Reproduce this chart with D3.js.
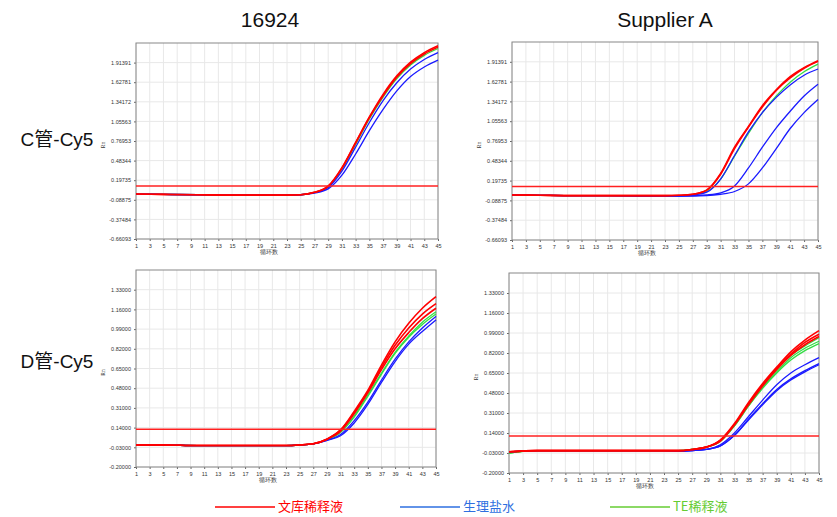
<!DOCTYPE html>
<html><head><meta charset="utf-8">
<script src="https://cdn.jsdelivr.net/npm/d3@7/dist/d3.min.js"></script>
<style>body{margin:0;background:#fff}</style></head>
<body><svg id="c" width="837" height="517"></svg>
<script>
const cycles = [1,5,10,15,20,23,25,27,29,31,33,35,37,39,41,43,45];
const xTicks = d3.range(1,46,2);
const yTicksTop = ["-0.66093","-0.37484","-0.08875","0.19735","0.48344","0.76953","1.05563","1.34172","1.62781","1.91391"];
const yTicksBottom = ["-0.20000","-0.03000","0.14000","0.31000","0.48000","0.65000","0.82000","0.99000","1.16000","1.33000"];
const colTitles = ["16924","Supplier A"];
const rowTitles = ["C管-Cy5","D管-Cy5"];
const legendLabels = ["文库稀释液","生理盐水","TE稀释液"];
const thresholds = [0.113, 0.113, 0.125, 0.115];

// panel 1: C tube, 16924
const p1Red = [[-0.005,-0.01,-0.015,-0.02,-0.02,-0.02,-0.015,0.02,0.11,0.38,0.75,1.12,1.45,1.72,1.92,2.06,2.16],
               [-0.005,-0.01,-0.015,-0.02,-0.02,-0.02,-0.015,0.02,0.11,0.37,0.74,1.11,1.43,1.70,1.90,2.04,2.14]];
const p1Green = [[-0.005,-0.01,-0.015,-0.02,-0.02,-0.02,-0.015,0.02,0.10,0.36,0.72,1.09,1.41,1.68,1.88,2.02,2.12]];
const p1Blue = [[-0.005,-0.01,-0.015,-0.02,-0.02,-0.02,-0.015,0.015,0.09,0.33,0.68,1.04,1.36,1.62,1.82,1.96,2.06],
                [-0.005,-0.01,-0.015,-0.02,-0.02,-0.02,-0.015,0.01,0.07,0.27,0.58,0.92,1.23,1.50,1.71,1.85,1.95]];
// panel 2: C tube, Supplier A
const p2Red = [[-0.01,-0.015,-0.02,-0.02,-0.02,-0.02,-0.015,0.0,0.06,0.30,0.68,0.98,1.28,1.51,1.70,1.83,1.93],
               [-0.01,-0.015,-0.02,-0.02,-0.02,-0.02,-0.015,0.0,0.06,0.29,0.66,0.97,1.26,1.50,1.68,1.82,1.92]];
const p2Green = [[-0.01,-0.015,-0.02,-0.02,-0.02,-0.02,-0.02,-0.005,0.04,0.22,0.55,0.88,1.18,1.42,1.62,1.77,1.88]];
const p2Blue = [[-0.01,-0.015,-0.02,-0.02,-0.02,-0.02,-0.02,-0.01,0.03,0.22,0.56,0.90,1.18,1.40,1.58,1.72,1.81],
                [-0.01,-0.015,-0.02,-0.02,-0.025,-0.025,-0.025,-0.02,-0.01,0.02,0.12,0.38,0.68,0.96,1.20,1.42,1.59],
                [-0.01,-0.015,-0.02,-0.02,-0.025,-0.025,-0.025,-0.025,-0.02,0.0,0.04,0.15,0.38,0.66,0.95,1.18,1.37]];
// panel 3: D tube, 16924
const p3Red = [[-0.01,-0.01,-0.015,-0.015,-0.015,-0.015,-0.01,0.0,0.04,0.12,0.28,0.46,0.68,0.88,1.04,1.17,1.27],
               [-0.01,-0.01,-0.015,-0.015,-0.015,-0.015,-0.01,0.0,0.04,0.12,0.27,0.45,0.66,0.85,1.00,1.12,1.21],
               [-0.01,-0.01,-0.015,-0.015,-0.015,-0.015,-0.01,0.0,0.04,0.11,0.26,0.44,0.64,0.82,0.96,1.08,1.17]];
const p3Green = [[-0.01,-0.01,-0.015,-0.015,-0.015,-0.015,-0.01,0.0,0.035,0.10,0.24,0.42,0.61,0.79,0.93,1.05,1.14],
                 [-0.01,-0.01,-0.015,-0.015,-0.015,-0.015,-0.01,0.0,0.035,0.10,0.23,0.41,0.60,0.78,0.92,1.03,1.12]];
const p3Blue = [[-0.01,-0.01,-0.015,-0.015,-0.015,-0.015,-0.01,0.0,0.03,0.08,0.20,0.36,0.55,0.73,0.88,1.00,1.10],
                [-0.01,-0.01,-0.015,-0.015,-0.015,-0.015,-0.01,0.0,0.03,0.07,0.18,0.34,0.53,0.71,0.86,0.97,1.07]];
// panel 4: D tube, Supplier A
const p4Red = [[-0.02,-0.01,-0.01,-0.01,-0.01,-0.01,-0.01,0.0,0.02,0.08,0.22,0.40,0.56,0.70,0.83,0.93,1.01],
               [-0.02,-0.01,-0.01,-0.01,-0.01,-0.01,-0.01,0.0,0.02,0.08,0.21,0.39,0.55,0.69,0.81,0.91,0.98],
               [-0.02,-0.01,-0.01,-0.01,-0.01,-0.01,-0.01,0.0,0.02,0.07,0.21,0.38,0.54,0.68,0.80,0.89,0.96]];
const p4Green = [[-0.03,-0.01,-0.01,-0.01,-0.01,-0.01,-0.01,0.0,0.02,0.07,0.21,0.38,0.54,0.68,0.80,0.88,0.95],
                 [-0.03,-0.01,-0.01,-0.01,-0.01,-0.01,-0.01,0.0,0.02,0.07,0.20,0.37,0.53,0.66,0.78,0.86,0.92],
                 [-0.03,-0.01,-0.01,-0.01,-0.01,-0.01,-0.01,0.0,0.02,0.07,0.20,0.37,0.52,0.65,0.76,0.84,0.90]];
const p4Blue = [[-0.02,-0.01,-0.01,-0.01,-0.01,-0.01,-0.015,-0.01,0.0,0.04,0.14,0.28,0.42,0.55,0.65,0.72,0.78],
                [-0.02,-0.01,-0.01,-0.01,-0.01,-0.01,-0.015,-0.01,0.0,0.03,0.12,0.26,0.39,0.51,0.60,0.67,0.73],
                [-0.02,-0.01,-0.01,-0.01,-0.01,-0.01,-0.015,-0.01,0.0,0.03,0.12,0.25,0.38,0.50,0.59,0.66,0.72]];

const svg = d3.select("#c");
const panels = [
  {x0:136,x1:438,y0:43,y1:239,dom:[-0.66093,2.2],ticks:yTicksTop,red:p1Red,green:p1Green,blue:p1Blue,th:thresholds[0]},
  {x0:512,x1:818,y0:42,y1:240,dom:[-0.66093,2.2],ticks:yTicksTop,red:p2Red,green:p2Green,blue:p2Blue,th:thresholds[1]},
  {x0:136,x1:436,y0:270,y1:467,dom:[-0.2,1.5],ticks:yTicksBottom,red:p3Red,green:p3Green,blue:p3Blue,th:thresholds[2]},
  {x0:509,x1:819,y0:273,y1:473,dom:[-0.2,1.5],ticks:yTicksBottom,red:p4Red,green:p4Green,blue:p4Blue,th:thresholds[3]}
];
panels.forEach(p=>{
  const x = d3.scaleLinear().domain([1,45]).range([p.x0,p.x1]);
  const y = d3.scaleLinear().domain(p.dom).range([p.y1,p.y0]);
  const g = svg.append("g");
  g.selectAll(".vg").data(xTicks).join("line").attr("x1",d=>x(d)).attr("x2",d=>x(d)).attr("y1",p.y0).attr("y2",p.y1).attr("stroke","#e8e8e8");
  g.selectAll(".hg").data(p.ticks).join("line").attr("x1",p.x0).attr("x2",p.x1).attr("y1",d=>y(+d)).attr("y2",d=>y(+d)).attr("stroke","#e8e8e8");
  const ax = g.append("g").attr("transform",`translate(0,${p.y1})`).call(d3.axisBottom(x).tickValues(xTicks).tickSize(2).tickFormat(d3.format("d")));
  const ay = g.append("g").attr("transform",`translate(${p.x0},0)`).call(d3.axisLeft(y).tickValues(p.ticks.map(Number)).tickSize(2).tickFormat((d,i)=>p.ticks[i]));
  [ax,ay].forEach(a=>{a.selectAll("text").attr("font-size",5.5).attr("fill","#333").attr("font-family","Arial");a.select(".domain").remove();a.selectAll("line").attr("stroke","#666");});
  g.append("rect").attr("x",p.x0).attr("y",p.y0).attr("width",p.x1-p.x0).attr("height",p.y1-p.y0).attr("fill","none").attr("stroke","#888");
  g.append("text").attr("x",(p.x0+p.x1)/2-(p.x1-p.x0)*0.06).attr("y",p.y1+15).attr("font-size",5.5).attr("text-anchor","middle").attr("fill","#333").text("循环数");
  g.append("text").attr("transform",`translate(${p.x0-31},${(p.y0+p.y1)/2+4}) rotate(-90)`).attr("font-size",5.5).attr("text-anchor","middle").attr("fill","#333").text("Rn");
  const line = d3.line().x((d,i)=>x(cycles[i])).y(d=>y(d)).curve(d3.curveMonotoneX);
  const draw=(arr,c,w)=>arr.forEach(s=>g.append("path").attr("d",line(s)).attr("fill","none").attr("stroke",c).attr("stroke-width",w));
  draw(p.green,"#33dd44",1.3); draw(p.blue,"#1a1aff",1.3); draw(p.red,"#ff0000",1.6);
  g.append("line").attr("x1",p.x0).attr("x2",p.x1).attr("y1",y(p.th)).attr("y2",y(p.th)).attr("stroke","#ff2020").attr("stroke-width",1.5);
});
svg.selectAll(".ct").data(colTitles).join("text").attr("x",(d,i)=>[270,665][i]).attr("y",27).attr("text-anchor","middle")
  .attr("font-family","Arial, Liberation Sans").attr("font-size",21).attr("fill","#111").text(d=>d);
svg.selectAll(".rt").data(rowTitles).join("text").attr("x",57).attr("y",(d,i)=>[146,368][i]).attr("text-anchor","middle")
  .attr("font-family","Arial, Liberation Sans, Noto Sans CJK SC").attr("font-size",19).attr("fill","#111").text(d=>d);
const legCol=["#ff0000","#2e6fe0","#66cc33"], legX=[215,400,610];
legendLabels.forEach((t,i)=>{
  svg.append("line").attr("x1",legX[i]).attr("x2",legX[i]+60).attr("y1",507).attr("y2",507).attr("stroke",legCol[i]).attr("stroke-width",1.5);
  svg.append("text").attr("x",legX[i]+63).attr("y",511).attr("font-size",13).attr("font-family","Noto Sans CJK SC, Arial").attr("fill",legCol[i]).text(t);
});
</script></body></html>
